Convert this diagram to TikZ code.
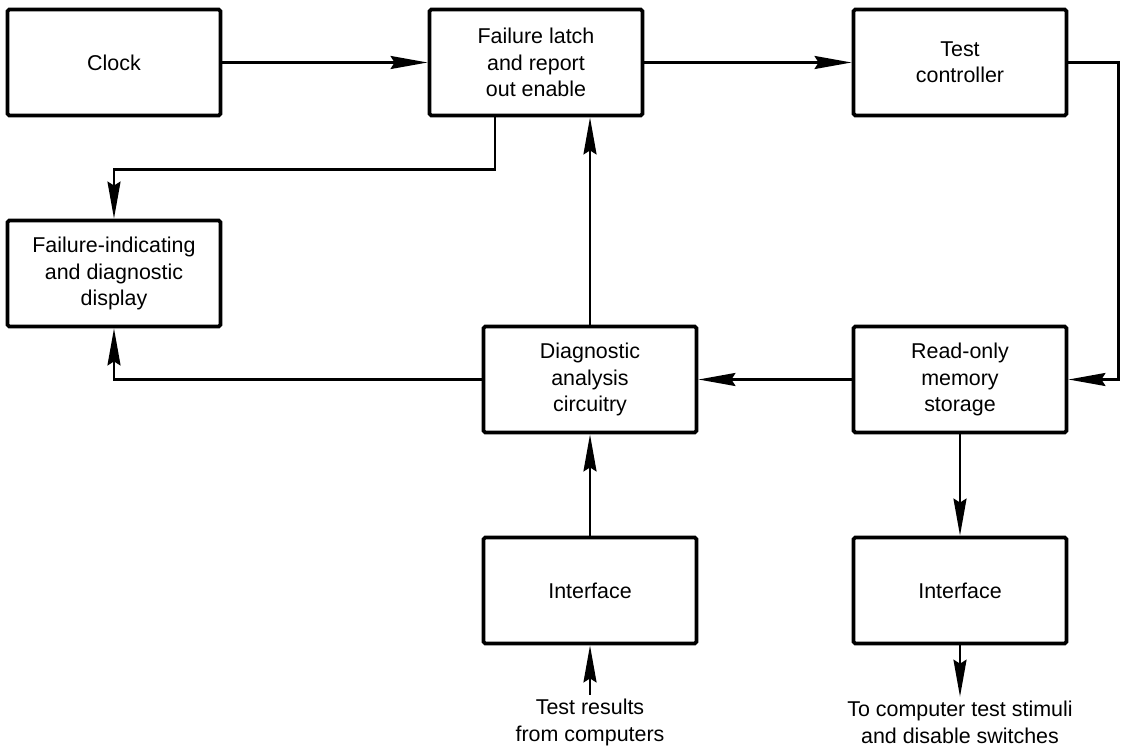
\documentclass[tikz,border=0pt]{standalone}
\usepackage{fontspec}
\setmainfont{Liberation Sans}
\usetikzlibrary{arrows.meta}

\begin{document}
\begin{tikzpicture}[->,>={Stealth[length=7.4mm,width=2.6mm,inset=0.8mm]},line width=1.4pt,node distance=4.22cm,
                    block/.style={draw,line width=2.2pt,rounded corners=1pt,minimum width=4.26cm,minimum height=2.12cm,align=center,font=\fontsize{12.2}{15}\selectfont},
                    note/.style={align=center,inner sep=2pt,font=\fontsize{12.2}{15}\selectfont}]
                \useasboundingbox (0,0) rectangle (22.42,15.06);
                \node[block] (clock) at (2.28,13.81) {Clock};
                \node[block] (latch) [right of = clock, node distance=8.44cm] {Failure latch\\and report\\out enable};
                \node[block] (ctrl) [right of = latch, node distance=8.48cm] {Test\\controller};
                \node[block] (disp) [below of = clock] {Failure-indicating\\and diagnostic\\display};
                \node[block] (rom) [below of = ctrl, node distance=6.34cm] {Read-only\\memory\\storage};
                \node[block] (diag) [left of = rom, node distance=7.4cm] {Diagnostic\\analysis\\circuitry};
                \node[block] (ifin) [below of = diag] {Interface};
                \node[block] (ifout) [below of = rom] {Interface};
                \node[note] (res) [below of = ifin, node distance=2.64cm] {Test results\\from computers};
                \node[note] (stim) [below of = ifout, node distance=2.64cm] {To computer test stimuli\\and disable switches};
                \path
                (clock) edge (latch)
                (latch) edge (ctrl)
                (rom) edge (diag)
                    edge (ifout)
                (ifin) edge (diag)
                (res) edge (ifin)
                (ifout) edge (stim)
                ;
                % elbow connectors
                \draw (ctrl.east) -- ++(1.0,0) |- (rom.east);
                \draw (diag) -- (diag |- latch.south);
                \draw ([xshift=-0.82cm]latch.south) -- ++(0,-1.04) -| (disp.north);
                \draw (diag.west) -| (disp.south);
            \end{tikzpicture}
\end{document}
